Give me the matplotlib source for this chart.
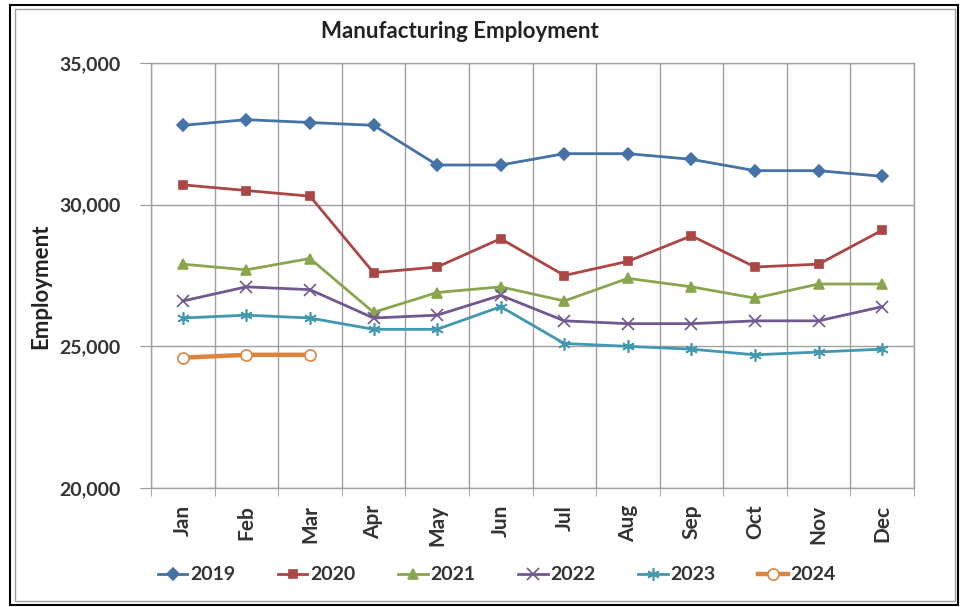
import matplotlib
matplotlib.use("Agg")
import matplotlib.pyplot as plt
from matplotlib.patches import Rectangle
from matplotlib.ticker import FuncFormatter
import numpy as np

plt.rcParams["font.family"] = ["Lato", "DejaVu Sans"]

months = ["Jan", "Feb", "Mar", "Apr", "May", "Jun", "Jul", "Aug", "Sep", "Oct", "Nov", "Dec"]
emp_2019 = [32800, 33000, 32900, 32800, 31400, 31400, 31800, 31800, 31600, 31200, 31200, 31000]
emp_2020 = [30700, 30500, 30300, 27600, 27800, 28800, 27500, 28000, 28900, 27800, 27900, 29100]
emp_2021 = [27900, 27700, 28100, 26200, 26900, 27100, 26600, 27400, 27100, 26700, 27200, 27200]
emp_2022 = [26600, 27100, 27000, 26000, 26100, 26800, 25900, 25800, 25800, 25900, 25900, 26400]
emp_2023 = [26000, 26100, 26000, 25600, 25600, 26400, 25100, 25000, 24900, 24700, 24800, 24900]
emp_2024 = [24600, 24700, 24700]

series = [
    ("2019", emp_2019, "#4572A7", "D", 6, "#4572A7"),
    ("2020", emp_2020, "#AA4643", "s", 6, "#AA4643"),
    ("2021", emp_2021, "#89A54E", "^", 7, "#89A54E"),
    ("2022", emp_2022, "#71588F", "x", 8, "#71588F"),
    ("2023", emp_2023, "#4198AF", (6, 2, 0), 9, "#4198AF"),
    ("2024", emp_2024, "#DB843D", "o", 8, "white"),
]

fig = plt.figure(figsize=(9.65, 6.07), dpi=100)
fig.patches.append(Rectangle((10 / 965, 1 - 605 / 607), 948 / 965, 600 / 607, transform=fig.transFigure,
                             fill=False, edgecolor="black", linewidth=1.5))
fig.patches.append(Rectangle((15 / 965, 1 - 601 / 607), 940 / 965, 592 / 607, transform=fig.transFigure,
                             fill=False, edgecolor="#a0a0a0", linewidth=1.0))

ax = fig.add_axes([151 / 965, 1 - 488 / 607, (914 - 151) / 965, (488 - 63) / 607])

x = np.arange(1, 13)
for name, vals, color, marker, ms, face in series:
    lw = 3.2 if name == "2024" else 2.0
    ax.plot(x[:len(vals)], vals, color=color, linewidth=lw, marker=marker, markersize=ms,
            markerfacecolor=face, markeredgecolor=color, markeredgewidth=1.2, label=name)

ax.set_xlim(0.5, 12.5)
ax.set_ylim(20000, 35000)
ax.set_yticks([20000, 25000, 30000, 35000])
ax.yaxis.set_major_formatter(FuncFormatter(lambda v, p: f"{int(v):,}"))
ax.set_xticks(x)
ax.set_xticklabels(months, rotation=90, fontsize=15, fontweight="bold", color="#333333")
ax.set_xticks(np.arange(0.5, 13, 1), minor=True)
ax.tick_params(axis="x", which="major", length=0, pad=12)
ax.tick_params(axis="x", which="minor", length=6, color="#999999", direction="out")
ax.tick_params(axis="y", length=8, color="#999999", labelsize=14, pad=14)
for lbl in ax.get_yticklabels():
    lbl.set_fontweight("bold")
    lbl.set_color("#333333")

ax.grid(True, which="minor", axis="x", color="#a0a0a0", linewidth=1.0)
ax.grid(True, which="major", axis="y", color="#a0a0a0", linewidth=1.0)
ax.set_axisbelow(True)
for side in ["top", "right", "left", "bottom"]:
    ax.spines[side].set_color("#a0a0a0")
    ax.spines[side].set_linewidth(1.0)

fig.text(41 / 965, 1 - 286 / 607, "Employment", rotation=90, ha="center", va="center",
         fontsize=16, fontweight="bold", color="#222222")
fig.text(460 / 965, 1 - 32 / 607, "Manufacturing Employment", ha="center", va="center",
         fontsize=16, fontweight="bold", color="#222222")

leg = fig.legend(loc="center", bbox_to_anchor=(497 / 965, 1 - 575 / 607), ncol=6, frameon=False,
                 prop={"size": 14, "weight": "bold"}, handlelength=1.5, columnspacing=2.2,
                 handletextpad=0.15)
for t in leg.get_texts():
    t.set_color("#333333")

plt.savefig("out.png", dpi=100)
plt.close()
